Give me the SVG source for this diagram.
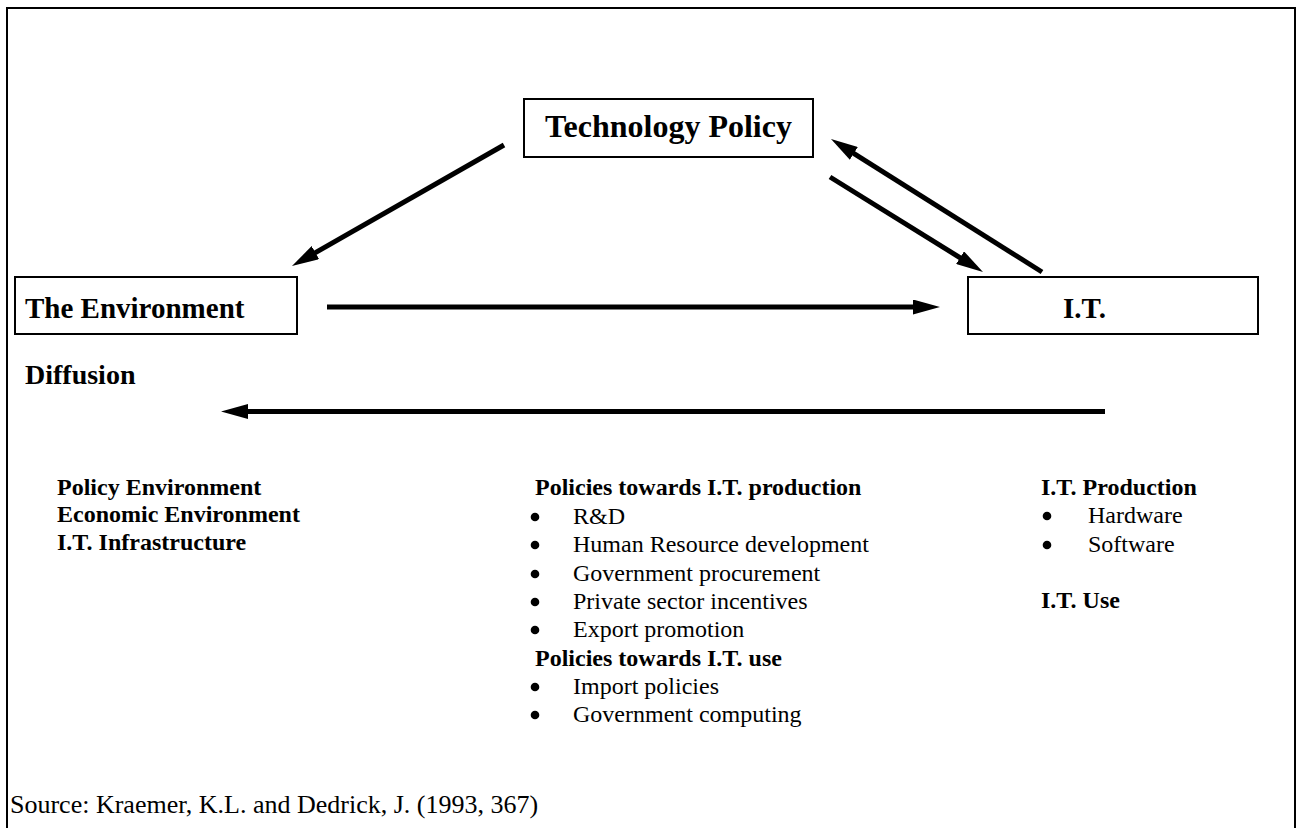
<svg xmlns="http://www.w3.org/2000/svg" width="1298" height="828" viewBox="0 0 1298 828">
<style>
.box{fill:#fff;stroke:#000;stroke-width:2}
.frame{fill:none;stroke:#000;stroke-width:2}
.b{font-family:"Liberation Serif","Times New Roman",serif;font-weight:bold;fill:#000}
.r{font-family:"Liberation Serif","Times New Roman",serif;fill:#000}
.arr{stroke:#000;stroke-width:5;fill:none;marker-end:url(#ah)}
.dot{fill:#000}
</style>
<defs>
<marker id="ah" markerUnits="userSpaceOnUse" markerWidth="27" markerHeight="15" viewBox="0 0 27 15" refX="3" refY="7.5" orient="auto">
<path d="M0,0 L27,7.5 L0,15 z" fill="#000"/>
</marker>
</defs>
<rect width="1298" height="828" fill="#fff"/>
<rect class="frame" x="7" y="8" width="1288" height="900"/>
<g id="connectors">
<line class="arr" x1="504" y1="145" x2="312.8" y2="254.1"/>
<line class="arr" x1="830" y1="177" x2="962.6" y2="259.3"/>
<line class="arr" x1="1042" y1="272" x2="851.3" y2="151.8"/>
<line class="arr" x1="327" y1="307" x2="916" y2="307"/>
<line class="arr" x1="1105" y1="411.5" x2="245" y2="411.5"/>
</g>
<g id="technology-policy">
<rect class="box" x="524" y="99" width="289" height="58"/>
<text class="b" x="668.5" y="137" font-size="32" text-anchor="middle">Technology Policy</text>
</g>
<g id="environment">
<rect class="box" x="15" y="277" width="282" height="57"/>
<text class="b" x="25" y="318" font-size="29">The Environment</text>
</g>
<g id="it">
<rect class="box" x="968" y="277" width="290" height="57"/>
<text class="b" x="1063" y="318" font-size="29">I.T.</text>
</g>
<g id="diffusion">
<text class="b" x="25" y="384" font-size="28">Diffusion</text>
</g>
<g id="environment-list">
<text class="b" x="57" y="495" font-size="24">Policy Environment</text>
<text class="b" x="57" y="522" font-size="24">Economic Environment</text>
<text class="b" x="57" y="550" font-size="24">I.T. Infrastructure</text>
</g>
<g id="policy-list">
<text class="b" x="535" y="495" font-size="24">Policies towards I.T. production</text>
<g class="dot">
<circle cx="535" cy="517" r="4.3"/>
<circle cx="535" cy="545" r="4.3"/>
<circle cx="535" cy="574" r="4.3"/>
<circle cx="535" cy="602" r="4.3"/>
<circle cx="535" cy="630" r="4.3"/>
<circle cx="535" cy="687" r="4.3"/>
<circle cx="535" cy="715" r="4.3"/>
</g>
<g class="r" font-size="24">
<text x="573" y="524">R&amp;D</text>
<text x="573" y="552">Human Resource development</text>
<text x="573" y="581">Government procurement</text>
<text x="573" y="609">Private sector incentives</text>
<text x="573" y="637">Export promotion</text>
</g>
<text class="b" x="535" y="666" font-size="24">Policies towards I.T. use</text>
<g class="r" font-size="24">
<text x="573" y="694">Import policies</text>
<text x="573" y="722">Government computing</text>
</g>
</g>
<g id="it-list">
<text class="b" x="1041" y="495" font-size="24">I.T. Production</text>
<g class="dot">
<circle cx="1047" cy="516" r="4.3"/>
<circle cx="1047" cy="545" r="4.3"/>
</g>
<g class="r" font-size="24">
<text x="1088" y="523">Hardware</text>
<text x="1088" y="552">Software</text>
</g>
<text class="b" x="1041" y="608" font-size="24">I.T. Use</text>
</g>
<text class="r" x="10" y="813" font-size="26">Source: Kraemer, K.L. and Dedrick, J. (1993, 367)</text>
</svg>
